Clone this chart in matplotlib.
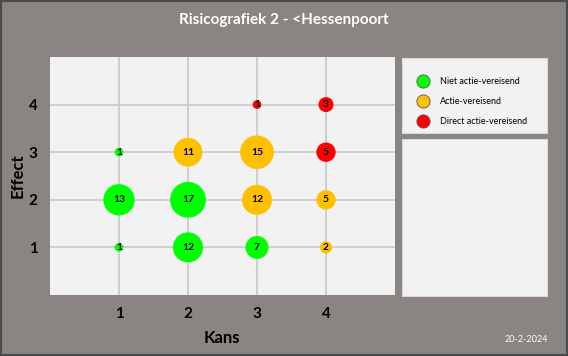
import matplotlib
matplotlib.use("Agg")
import matplotlib.pyplot as plt
from matplotlib.patches import Rectangle
from matplotlib.lines import Line2D

series_names = ["Niet actie-vereisend", "Actie-vereisend", "Direct actie-vereisend"]
series_colors = ["#00FF00", "#FFC000", "#FF0000"]

green_x = [1, 1, 1, 2, 2, 3]
green_y = [3, 2, 1, 2, 1, 1]
green_v = [1, 13, 1, 17, 12, 7]

orange_x = [2, 3, 3, 4, 4]
orange_y = [3, 3, 2, 2, 1]
orange_v = [11, 15, 12, 5, 2]

red_x = [3, 4, 4]
red_y = [4, 4, 3]
red_v = [1, 3, 5]

x_ticks = [1, 2, 3, 4]
y_ticks = [1, 2, 3, 4]
title = "Risicografiek 2 - <Hessenpoort"
date_text = "20-2-2024"

plt.rcParams['font.family'] = ['Lato', 'DejaVu Sans']

W, H = 568, 356
fig = plt.figure(figsize=(W / 100, H / 100), dpi=100)
fig.patch.set_facecolor("#8A8482")

# outer border
fig.patches.append(Rectangle((0, 0), 1, 1, transform=fig.transFigure, fill=False,
                             edgecolor="#4A4A4A", linewidth=3, zorder=10))

def fx(px):
    return px / W

def fy(py):
    return 1 - py / H

# main plot area
ax = fig.add_axes([fx(50), fy(295), fx(395) - fx(50), (295 - 57) / H])
ax.set_facecolor("#F2F2F2")
ax.set_xlim(0, 5)
ax.set_ylim(0, 5)
for s in ax.spines.values():
    s.set_visible(False)
ax.set_xticks(x_ticks)
ax.set_yticks(y_ticks)
ax.grid(True, color="#C8C8C8", linewidth=1.2, zorder=0)
ax.set_axisbelow(True)
ax.tick_params(length=0, labelsize=11, pad=9)
for lab in ax.get_xticklabels() + ax.get_yticklabels():
    lab.set_fontweight("bold")

fig.text(fx(222), fy(338), "Kans", ha="center", va="center",
         fontsize=12, fontweight="bold", color="black")
fig.text(fx(18), fy(176), "Effect", ha="center", va="center", rotation=90,
         fontsize=12, fontweight="bold", color="black")

k = 39.0
for xs, ys, vs, col in [(green_x, green_y, green_v, series_colors[0]),
                        (orange_x, orange_y, orange_v, series_colors[1]),
                        (red_x, red_y, red_v, series_colors[2])]:
    ax.scatter(xs, ys, s=[k * v for v in vs], color=col, edgecolors="none", zorder=3)
    for x, y, v in zip(xs, ys, vs):
        ax.text(x, y, str(v), ha="center", va="center", fontsize=7.5,
                fontweight="bold", color="black", zorder=4)

# legend box
lax = fig.add_axes([fx(402), fy(133), fx(547) - fx(402), (133 - 58) / H])
lax.set_facecolor("#F2F2F2")
lax.set_xlim(0, 1)
lax.set_ylim(0, 1)
lax.set_xticks([])
lax.set_yticks([])
for s in lax.spines.values():
    s.set_color("#D8D8D8")
handles = [Line2D([], [], marker="o", linestyle="none", markersize=9.5,
                  markerfacecolor=c, markeredgecolor="#555555", markeredgewidth=0.6)
           for c in series_colors]
leg = lax.legend(handles, series_names, loc="center left", frameon=False,
                 fontsize=6.5, handletextpad=0.9, labelspacing=1.2,
                 borderaxespad=0.3, bbox_to_anchor=(0.04, 0.42))

# empty box
bax = fig.add_axes([fx(402), fy(296), fx(547) - fx(402), (296 - 139) / H])
bax.set_facecolor("#F2F2F2")
bax.set_xticks([])
bax.set_yticks([])
for s in bax.spines.values():
    s.set_color("#D8D8D8")

fig.text(0.5, fy(20), title, ha="center", va="center", color="white",
         fontsize=11, fontweight="bold")
fig.text(fx(548), fy(340), date_text, ha="right", va="center", color="white",
         fontsize=6.5)

fig.savefig("out.png", dpi=100, facecolor=fig.get_facecolor())
